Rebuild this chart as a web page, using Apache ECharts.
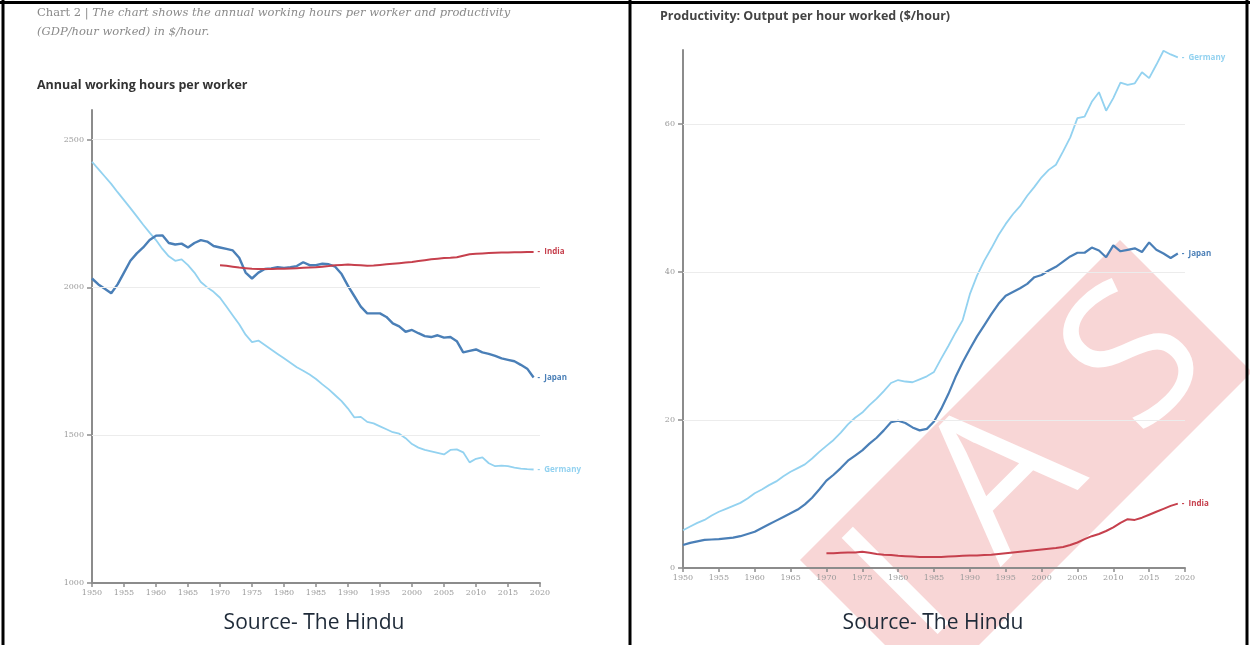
<!DOCTYPE html>
<html>
<head>
<meta charset="utf-8">
<script src="https://cdn.jsdelivr.net/npm/echarts@6/dist/echarts.min.js"></script>
<style>
  html, body { margin: 0; padding: 0; background: #fff; }
  #chart { width: 1250px; height: 645px; }
</style>
</head>
<body>
<div id="chart"></div>
<script>
// years shared by Germany and Japan, India only from 1970
const years = [1950, 1951, 1952, 1953, 1954, 1955, 1956, 1957, 1958, 1959,
  1960, 1961, 1962, 1963, 1964, 1965, 1966, 1967, 1968, 1969,
  1970, 1971, 1972, 1973, 1974, 1975, 1976, 1977, 1978, 1979,
  1980, 1981, 1982, 1983, 1984, 1985, 1986, 1987, 1988, 1989,
  1990, 1991, 1992, 1993, 1994, 1995, 1996, 1997, 1998, 1999,
  2000, 2001, 2002, 2003, 2004, 2005, 2006, 2007, 2008, 2009,
  2010, 2011, 2012, 2013, 2014, 2015, 2016, 2017, 2018, 2019]
const indiaYears = [1970, 1971, 1972, 1973, 1974, 1975, 1976, 1977, 1978, 1979,
  1980, 1981, 1982, 1983, 1984, 1985, 1986, 1987, 1988, 1989,
  1990, 1991, 1992, 1993, 1994, 1995, 1996, 1997, 1998, 1999,
  2000, 2001, 2002, 2003, 2004, 2005, 2006, 2007, 2008, 2009,
  2010, 2011, 2012, 2013, 2014, 2015, 2016, 2017, 2018, 2019]

// annual working hours per worker
const hoursGermany = [2425, 2400, 2375, 2350, 2322, 2295, 2268, 2240, 2212, 2185,
  2160, 2130, 2105, 2090, 2095, 2075, 2050, 2018, 2000, 1985,
  1965, 1935, 1905, 1875, 1840, 1815, 1820, 1805, 1790, 1775,
  1760, 1745, 1730, 1718, 1705, 1690, 1672, 1655, 1635, 1615,
  1590, 1560, 1562, 1545, 1540, 1530, 1520, 1510, 1505, 1490,
  1470, 1458, 1450, 1445, 1440, 1435, 1450, 1452, 1442, 1408,
  1420, 1425, 1405, 1395, 1397, 1395, 1390, 1387, 1385, 1384]
const hoursJapan = [2030, 2010, 1995, 1980, 2010, 2050, 2090, 2115, 2135, 2160,
  2175, 2176, 2150, 2145, 2148, 2135, 2150, 2160, 2155, 2140,
  2135, 2130, 2125, 2100, 2050, 2030, 2050, 2062, 2064, 2068,
  2066, 2068, 2072, 2085, 2075, 2075, 2080, 2078, 2070, 2045,
  2005, 1970, 1935, 1912, 1912, 1912, 1900, 1878, 1868, 1850,
  1856, 1845, 1835, 1832, 1838, 1830, 1832, 1818, 1780, 1785,
  1790, 1780, 1775, 1768, 1760, 1755, 1750, 1738, 1725, 1695]
const hoursIndia = [2075, 2073, 2070, 2067, 2065, 2063, 2062, 2062, 2062, 2063,
  2063, 2064, 2065, 2066, 2067, 2068, 2070, 2072, 2075, 2076,
  2077, 2076, 2075, 2073, 2074, 2076, 2078, 2080, 2082, 2084,
  2086, 2089, 2092, 2095, 2097, 2099, 2100, 2102, 2107, 2112,
  2114, 2115, 2116, 2117, 2118, 2118, 2119, 2119, 2120, 2120]

// productivity, $ per hour worked
const prodGermany = [5.1, 5.6, 6.1, 6.5, 7.1, 7.6, 8.0, 8.4, 8.8, 9.4,
  10.1, 10.6, 11.2, 11.7, 12.4, 13.0, 13.5, 14.0, 14.8, 15.7,
  16.5, 17.3, 18.3, 19.4, 20.3, 21.0, 22.0, 22.9, 23.9, 25.0,
  25.4, 25.2, 25.1, 25.5, 25.9, 26.5, 28.3, 30.0, 31.8, 33.5,
  37.0, 39.5, 41.5, 43.2, 45.0, 46.5, 47.8, 48.9, 50.3, 51.5,
  52.8, 53.8, 54.5, 56.3, 58.2, 60.8, 61.0, 63.0, 64.3, 61.8,
  63.5, 65.6, 65.3, 65.5, 67.0, 66.2, 68.0, 69.9, 69.4, 69.0]
const prodJapan = [3.1, 3.4, 3.6, 3.8, 3.85, 3.9, 4.0, 4.1, 4.3, 4.6,
  4.9, 5.4, 5.9, 6.4, 6.9, 7.4, 7.9, 8.6, 9.5, 10.6,
  11.8, 12.6, 13.5, 14.5, 15.2, 15.9, 16.8, 17.6, 18.6, 19.7,
  19.9, 19.6, 19.0, 18.6, 18.8, 19.8, 21.5, 23.5, 25.8, 27.8,
  29.6, 31.3, 32.8, 34.3, 35.7, 36.8, 37.3, 37.8, 38.4, 39.3,
  39.6, 40.2, 40.7, 41.4, 42.1, 42.6, 42.6, 43.3, 42.9, 42.0,
  43.6, 42.8, 43.0, 43.2, 42.7, 44.0, 43.0, 42.5, 41.9, 42.5]
const prodIndia = [2.0, 2.0, 2.05, 2.1, 2.1, 2.2, 2.05, 1.9, 1.8, 1.75,
  1.65, 1.6, 1.55, 1.5, 1.5, 1.5, 1.5, 1.55, 1.6, 1.65,
  1.7, 1.7, 1.75, 1.8, 1.9, 2.0, 2.1, 2.2, 2.3, 2.4,
  2.5, 2.6, 2.7, 2.85, 3.1, 3.45, 3.9, 4.3, 4.6, 5.0,
  5.5, 6.1, 6.6, 6.5, 6.8, 7.2, 7.6, 8.0, 8.4, 8.7]

const hoursTicks = [1000, 1500, 2000, 2500]
const prodTicks = [0, 20, 40, 60]

const GERMANY = '#93d2f0'
const JAPAN = '#4a7fb7'
const INDIA = '#c6404d'
const AXIS = '#8c8c8c'
const LABEL_FONT = '"DejaVu Serif", serif'
const SANS = '"Open Sans", "Noto Sans", sans-serif'

const pairs = (xs, ys) => xs.map((x, i) => [x, ys[i]])

const line = (name, idx, xs, ys, color, width) => ({
  name: name,
  type: 'line',
  xAxisIndex: idx,
  yAxisIndex: idx,
  data: pairs(xs, ys),
  showSymbol: false,
  symbol: 'none',
  lineStyle: { color: color, width: width },
  itemStyle: { color: color },
  endLabel: {
    show: true,
    formatter: () => '-  ' + name,
    color: color,
    fontSize: 8,
    fontWeight: 'bold',
    fontFamily: SANS,
    distance: 4
  }
})

const gridLines = (values) => ({
  silent: true,
  symbol: ['none', 'none'],
  label: { show: false },
  lineStyle: { color: '#ececec', type: 'solid', width: 1 },
  data: values.map(v => ({ yAxis: v }))
})

const xAxis = (idx) => ({
  gridIndex: idx,
  type: 'value',
  min: 1950,
  max: 2020,
  interval: 5,
  axisLine: { lineStyle: { color: AXIS, width: 2 } },
  axisTick: { length: 4, lineStyle: { color: AXIS, width: 1.5 } },
  axisLabel: { color: '#9a9a9a', fontSize: 8, fontFamily: LABEL_FONT, margin: 6, formatter: v => String(v) },
  splitLine: { show: false }
})

const yAxis = (idx, min, max, ticks) => ({
  gridIndex: idx,
  type: 'value',
  min: min,
  max: max,
  axisLine: { show: true, lineStyle: { color: AXIS, width: 2 } },
  axisTick: { show: true, length: 5, customValues: ticks, lineStyle: { color: AXIS, width: 1.5 } },
  axisLabel: { color: '#9a9a9a', fontSize: 8, fontFamily: LABEL_FONT, margin: 8, customValues: ticks, formatter: v => String(v) },
  splitLine: { show: false }
})

const hoursG = line('Germany', 0, years, hoursGermany, GERMANY, 1.8)
hoursG.markLine = gridLines([1500, 2000, 2500])
const prodG = line('Germany', 1, years, prodGermany, GERMANY, 1.8)
prodG.markLine = gridLines([20, 40, 60])

const chart = echarts.init(document.getElementById('chart'))
chart.setOption({
  animation: false,
  backgroundColor: '#fff',
  grid: [
    { left: 92, top: 110, width: 448, height: 473 },
    { left: 683, top: 50, width: 502, height: 518 }
  ],
  xAxis: [xAxis(0), xAxis(1)],
  yAxis: [yAxis(0, 1000, 2600, hoursTicks), yAxis(1, 0, 70, prodTicks)],
  series: [
    hoursG,
    line('Japan', 0, years, hoursJapan, JAPAN, 2.4),
    line('India', 0, indiaYears, hoursIndia, INDIA, 2),
    prodG,
    line('Japan', 1, years, prodJapan, JAPAN, 2.2),
    line('India', 1, indiaYears, prodIndia, INDIA, 2)
  ],
  graphic: [
    // watermark band
    {
      type: 'polygon', z: 0, silent: true,
      shape: { points: [[800, 560], [1120, 240], [1252, 372], [932, 692]] },
      style: { fill: 'rgba(222, 70, 70, 0.22)' }
    },
    { type: 'text', z: 0, silent: true, x: 905, y: 590, rotation: Math.PI / 4,
      style: { text: 'I', fontSize: 190, fontFamily: SANS, fill: '#fff', align: 'center', verticalAlign: 'middle', textAlign: 'center', textVerticalAlign: 'middle' } },
    { type: 'text', z: 0, silent: true, x: 1005, y: 482, rotation: Math.PI / 4,
      style: { text: 'A', fontSize: 200, fontFamily: SANS, fill: '#fff', align: 'center', verticalAlign: 'middle', textAlign: 'center', textVerticalAlign: 'middle' } },
    { type: 'text', z: 0, silent: true, x: 1138, y: 362, rotation: Math.PI / 4,
      style: { text: 'S', fontSize: 195, fontFamily: SANS, fill: '#fff', align: 'center', verticalAlign: 'middle', textAlign: 'center', textVerticalAlign: 'middle' } },
    // captions and titles
    {
      type: 'text', left: 37, top: 7,
      style: {
        text: '{n|Chart 2 | }{i|The chart shows the annual working hours per worker and productivity}\n{i|(GDP/hour worked) in $/hour.}',
        rich: {
          n: { fontFamily: LABEL_FONT, fontSize: 11.5, fill: '#8a8a8a', lineHeight: 19 },
          i: { fontFamily: LABEL_FONT, fontSize: 11.5, fontStyle: 'italic', fill: '#8a8a8a', lineHeight: 19 }
        }
      }
    },
    {
      type: 'text', left: 37, top: 79,
      style: { text: 'Annual working hours per worker', fontSize: 12.5, fontWeight: 'bold', fontFamily: SANS, fill: '#333' }
    },
    {
      type: 'text', left: 660, top: 10,
      style: { text: 'Productivity: Output per hour worked ($/hour)', fontSize: 12.5, fontWeight: 'bold', fontFamily: SANS, fill: '#444' }
    },
    {
      type: 'text', x: 314, y: 613,
      style: { text: 'Source- The Hindu', fontSize: 21, fontFamily: SANS, fill: '#1e2a38', align: 'center', textAlign: 'center' }
    },
    {
      type: 'text', x: 933, y: 613,
      style: { text: 'Source- The Hindu', fontSize: 21, fontFamily: SANS, fill: '#1e2a38', align: 'center', textAlign: 'center' }
    },
    // table borders
    { type: 'line', shape: { x1: 0, y1: 2.5, x2: 1250, y2: 2.5 }, style: { stroke: '#000', lineWidth: 3 } },
    { type: 'line', shape: { x1: 3, y1: 0, x2: 3, y2: 645 }, style: { stroke: '#000', lineWidth: 3 } },
    { type: 'line', shape: { x1: 630, y1: 0, x2: 630, y2: 645 }, style: { stroke: '#000', lineWidth: 3 } },
    { type: 'line', shape: { x1: 1247, y1: 0, x2: 1247, y2: 645 }, style: { stroke: '#000', lineWidth: 3 } }
  ]
})
</script>
</body>
</html>
